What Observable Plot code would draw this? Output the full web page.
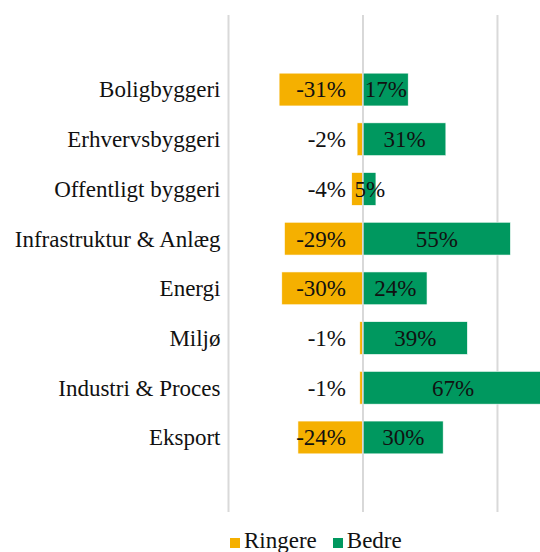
<!DOCTYPE html>
<html>
<head>
<meta charset="utf-8">
<script src="https://cdn.jsdelivr.net/npm/d3@7"></script>
<script src="https://cdn.jsdelivr.net/npm/@observablehq/plot@0.6"></script>
<style>
  html, body { margin: 0; padding: 0; background: #fff; }
  #wrap { position: relative; width: 540px; height: 552px; overflow: hidden; font-family: "Liberation Serif", "Times New Roman", serif; color: #111; }
  #legend { position: absolute; left: 230px; top: 529px; font-size: 23px; line-height: 23px; white-space: nowrap; }
  .sw { display: inline-block; width: 10px; height: 10px; margin-right: 4px; vertical-align: baseline; }
  .item { display: inline-block; margin-right: 16px; }
</style>
</head>
<body>
<div id="wrap"><div id="chart"></div><div id="legend"></div></div>
<script>
const categories = ["Boligbyggeri", "Erhvervsbyggeri", "Offentligt byggeri", "Infrastruktur & Anlæg", "Energi", "Miljø", "Industri & Proces", "Eksport"];
const ringere = [-31, -2, -4, -29, -30, -1, -1, -24];
const bedre = [17, 31, 5, 55, 24, 39, 67, 30];
const gridTicks = [-50, 0, 50];
const seriesNames = ["Ringere", "Bedre"];
const seriesColors = ["#F5B000", "#00985F"];

const ringRows = categories.map((c, i) => ({cat: c, series: "Ringere", v: ringere[i]}));
const bedRows = categories.map((c, i) => ({cat: c, series: "Bedre", v: bedre[i]}));
const rows = ringRows.concat(bedRows);

const chart = Plot.plot({
  width: 540,
  height: 522,
  marginTop: 15,
  marginBottom: 10,
  marginLeft: 228,
  marginRight: 0,
  x: {domain: [-50, 66], axis: null},
  y: {domain: categories, paddingInner: 0.34, paddingOuter: 1.17, round: false, axis: null},
  color: {domain: seriesNames, range: seriesColors},
  style: {fontFamily: "'Liberation Serif', 'Times New Roman', serif", fontSize: "23px", color: "#111", background: "#fff"},
  marks: [
    Plot.ruleX(gridTicks, {stroke: "#d9d9d9", strokeWidth: 2}),
    Plot.barX(rows, {x1: 0, x2: "v", y: "cat", fill: "series", stroke: "#fff", strokeWidth: 0.6, clip: true}),
    Plot.ruleX([0], {stroke: "#d9d9d9", strokeWidth: 1.5}),
    Plot.text(ringRows, {x: 0, y: "cat", text: d => d.v + "%", textAnchor: "end", dx: -17, fontSize: 23, fill: "#111"}),
    Plot.text(bedRows, {x: d => d.v / 2, y: "cat", text: d => d.v + "%", textAnchor: "middle", fontSize: 23, fill: "#111"}),
    Plot.axisY({tickSize: 0, tickPadding: 8, fontSize: 23, label: null})
  ]
});
document.getElementById("chart").appendChild(chart);

const legend = document.getElementById("legend");
seriesNames.forEach((name, i) => {
  const item = document.createElement("span");
  item.className = "item";
  const sw = document.createElement("span");
  sw.className = "sw";
  sw.style.background = seriesColors[i];
  item.appendChild(sw);
  item.appendChild(document.createTextNode(name));
  legend.appendChild(item);
});
</script>
</body>
</html>
